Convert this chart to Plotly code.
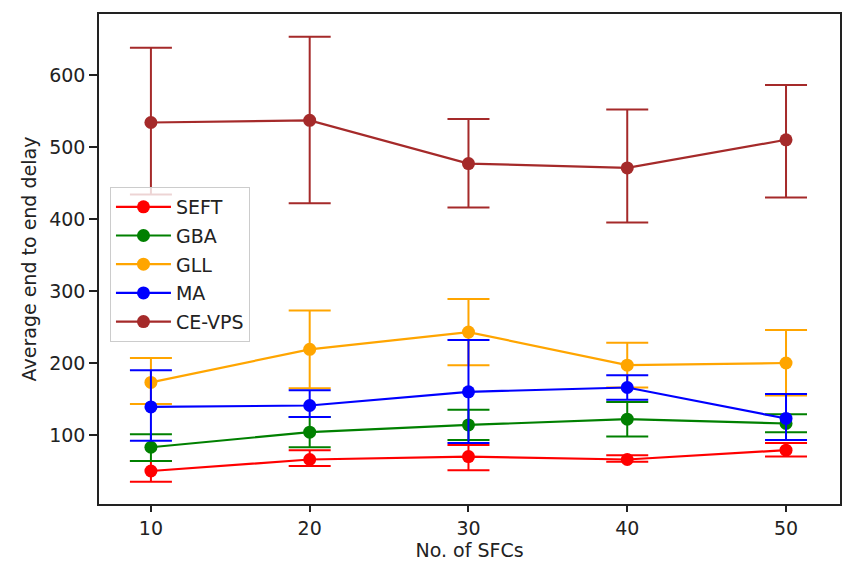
import plotly.graph_objects as go

x_sfcs = [10, 20, 30, 40, 50]

names = ["SEFT", "GBA", "GLL", "MA", "CE-VPS"]
colors = ["red", "green", "orange", "blue", "brown"]

seft_mean = [50, 66, 70, 66, 79]
seft_plus = [14, 13, 16, 6, 10]
seft_minus = [15, 9, 19, 3, 9]

gba_mean = [83, 104, 114, 122, 116]
gba_plus = [18, 21, 21, 24, 13]
gba_minus = [19, 21, 21, 24, 12]

gll_mean = [173, 219, 243, 197, 200]
gll_plus = [34, 54, 46, 31, 46]
gll_minus = [30, 54, 46, 31, 45]

ma_mean = [139, 141, 160, 166, 123]
ma_plus = [51, 21, 72, 17, 34]
ma_minus = [47, 16, 71, 17, 30]

cevps_mean = [534, 537, 477, 471, 510]
cevps_plus = [104, 116, 62, 81, 76]
cevps_minus = [100, 115, 61, 76, 80]

means = [seft_mean, gba_mean, gll_mean, ma_mean, cevps_mean]
pluses = [seft_plus, gba_plus, gll_plus, ma_plus, cevps_plus]
minuses = [seft_minus, gba_minus, gll_minus, ma_minus, cevps_minus]

x_ticks = [10, 20, 30, 40, 50]
y_ticks = [100, 200, 300, 400, 500, 600]

FONT = "DejaVu Sans"
FS = 19

fig = go.Figure()
for name, col, m, p, mi in zip(names, colors, means, pluses, minuses):
    fig.add_trace(go.Scatter(
        x=x_sfcs, y=m, name=name, mode="lines+markers",
        legendgroup=name,
        line=dict(color=col, width=2.2),
        marker=dict(color=col, size=13),
        error_y=dict(type="data", symmetric=False, array=p, arrayminus=mi,
                     color=col, thickness=2, width=21),
    ))

fig.update_layout(
    width=844, height=562,
    margin=dict(l=99, r=2, t=14, b=58),
    paper_bgcolor="white", plot_bgcolor="white",
    font=dict(family=FONT, size=FS, color="#222222"),
    showlegend=True,
    legend=dict(
        x=0.0148, y=0.647, xanchor="left", yanchor="top",
        bgcolor="rgba(255,255,255,0.8)", bordercolor="#cccccc", borderwidth=1,
        font=dict(family=FONT, size=FS, color="#222222"),
        tracegroupgap=1, itemwidth=55,
    ),
)
fig.update_xaxes(
    range=[6.73, 53.4], tickvals=x_ticks, ticktext=[str(v) for v in x_ticks],
    showgrid=False, zeroline=False,
    showline=True, mirror=True, linecolor="#222222", linewidth=1.5,
    ticks="outside", ticklen=6, tickwidth=1.5, tickcolor="#222222",
    tickfont=dict(size=FS),
    title=dict(text="No. of SFCs", standoff=0, font=dict(size=FS)),
)
fig.update_yaxes(
    range=[4.2, 684.7], tickvals=y_ticks, ticktext=[str(v) for v in y_ticks],
    showgrid=False, zeroline=False,
    showline=True, mirror=True, linecolor="#222222", linewidth=1.5,
    ticks="outside", ticklen=8, tickwidth=1.5, tickcolor="#222222",
    tickfont=dict(size=FS),
    title=dict(text="Average end to end delay", standoff=8, font=dict(size=FS)),
)

fig.write_html("out.html")
